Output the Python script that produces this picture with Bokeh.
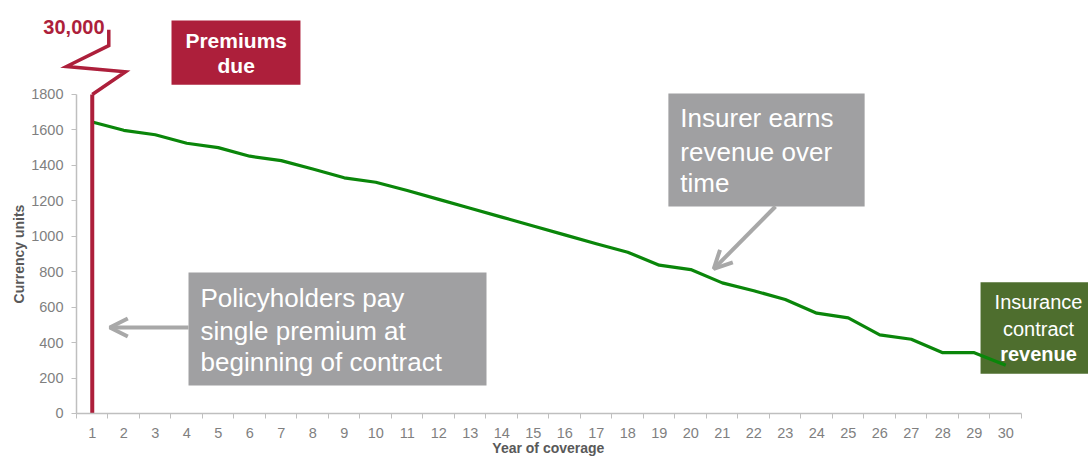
from bokeh.plotting import figure
from bokeh.models import (Range1d, FixedTicker, BoxAnnotation, Label, Arrow, OpenHead)
from bokeh.embed import file_html
from bokeh.resources import INLINE

# ---------------- data ----------------
years = list(range(1, 31))
year_labels = [str(y) for y in years]
revenue = [1645, 1598, 1573, 1525, 1500, 1452, 1427, 1380, 1330, 1305,
           1258, 1208, 1158, 1108, 1058, 1008, 958, 910, 837, 812,
           737, 693, 643, 566, 540, 444, 419, 343, 343, 272]
premium_year = [1, 1]
premium_level = [0, 1800]
premium_label = "30,000"
y_ticks = [0, 200, 400, 600, 800, 1000, 1200, 1400, 1600, 1800]
# axis-break marker drawn above the 1800 tick (data units)
break_x = [1, 2.056, 0.183, 1.525, 1.525]
break_y = [1800, 1928, 1958, 2076, 2165]

FONT = "Liberation Sans"
RED = "#AD1F3B"
GREEN_LINE = "#0A860A"
GREY_BOX = "#A0A0A2"
ARROW_GREY = "#A8A8A8"
GREEN_BOX = "#4E6E2E"
TICK_GREY = "#7F7F7F"
AXIS_GREY = "#BFBFBF"
TITLE_GREY = "#595959"

p = figure(width=1088, height=457, output_backend="svg", toolbar_location=None,
           x_range=Range1d(-1.9127, 32.627), y_range=Range1d(-248.3, 2330.4),
           min_border=0)
p.outline_line_color = None
p.grid.visible = False
p.background_fill_color = "white"
p.border_fill_color = "white"

# x axis: labels at category centres, tick marks between categories
xa = p.xaxis[0]
xa.fixed_location = 0
xa.ticker = FixedTicker(ticks=years, minor_ticks=[y - 0.5 for y in range(1, 32)])
xa.major_label_overrides = {y: l for y, l in zip(years, year_labels)}
xa.bounds = (0.5, 30.5)
xa.major_tick_out = 0
xa.major_tick_in = 0
xa.minor_tick_out = 5
xa.minor_tick_in = 0
xa.minor_tick_line_color = AXIS_GREY
xa.axis_line_color = AXIS_GREY
xa.axis_line_width = 1.5
xa.major_label_text_font = FONT
xa.major_label_text_font_size = "14.5px"
xa.major_label_text_color = TICK_GREY
xa.major_label_standoff = 10

ya = p.yaxis[0]
ya.fixed_location = 0.5
ya.ticker = FixedTicker(ticks=y_ticks, minor_ticks=[])
ya.bounds = (0, 1800)
ya.major_tick_out = 5
ya.major_tick_in = 0
ya.major_tick_line_color = AXIS_GREY
ya.axis_line_color = AXIS_GREY
ya.axis_line_width = 1.5
ya.major_label_text_font = FONT
ya.major_label_text_font_size = "14.5px"
ya.major_label_text_color = TICK_GREY
ya.major_label_standoff = 8

# green box behind the line
p.add_layout(BoxAnnotation(left=29.2, right=33, bottom=224, top=741,
                           fill_color=GREEN_BOX, fill_alpha=1, line_color=None,
                           level="underlay"))

# revenue line
p.line(years, revenue, line_color=GREEN_LINE, line_width=3.2, line_join="round")

# single premium line with axis-break marker
p.line(premium_year, premium_level, line_color=RED, line_width=4)
p.line(break_x, break_y, line_color=RED, line_width=3.5, line_join="miter")
p.add_layout(Label(x=1.389, y=2180, text=premium_label, text_font=FONT,
                   text_font_size="20px", text_font_style="bold",
                   text_color=RED, text_align="right", text_baseline="middle"))

# Premiums due box
p.add_layout(BoxAnnotation(left=3.516, right=7.61, bottom=1855, top=2218,
                           fill_color=RED, fill_alpha=1, line_color=None))
for t, yy in zip(["Premiums", "due"], [2105, 1964]):
    p.add_layout(Label(x=5.57, y=yy, text=t, text_font=FONT, text_font_size="21px",
                       text_font_style="bold", text_color="white",
                       text_align="center", text_baseline="middle"))

# Policyholders box
p.add_layout(BoxAnnotation(left=4.056, right=13.516, bottom=158, top=796,
                           fill_color=GREY_BOX, fill_alpha=1, line_color=None))
for t, yy in zip(["Policyholders pay", "single premium at",
                  "beginning of contract"], [649, 468, 288]):
    p.add_layout(Label(x=4.437, y=yy, text=t, text_font=FONT, text_font_size="26px",
                       text_color="white", text_align="left", text_baseline="middle"))
p.add_layout(Arrow(end=OpenHead(size=18, line_color=ARROW_GREY, line_width=4),
                   x_start=4.056, y_start=485, x_end=1.557, y_end=485,
                   line_color=ARROW_GREY, line_width=4))

# Insurer earns box
p.add_layout(BoxAnnotation(left=19.29, right=25.52, bottom=1168, top=1806,
                           fill_color=GREY_BOX, fill_alpha=1, line_color=None))
for t, yy in zip(["Insurer earns", "revenue over", "time"], [1670, 1478, 1298]):
    p.add_layout(Label(x=19.67, y=yy, text=t, text_font=FONT, text_font_size="26px",
                       text_color="white", text_align="left", text_baseline="middle"))
p.add_layout(Arrow(end=OpenHead(size=18, line_color=ARROW_GREY, line_width=4),
                   x_start=22.69, y_start=1168, x_end=20.73, y_end=816,
                   line_color=ARROW_GREY, line_width=4))

# Insurance contract revenue text
for t, yy, st in zip(["Insurance", "contract", "revenue"], [628, 478, 337],
                     ["normal", "normal", "bold"]):
    p.add_layout(Label(x=31.04, y=yy, text=t, text_font=FONT, text_font_size="20px",
                       text_font_style=st, text_color="white",
                       text_align="center", text_baseline="middle"))

# axis titles
p.add_layout(Label(x=-1.341, y=900, text="Currency units", angle=1.5708,
                   text_font=FONT, text_font_size="14px", text_font_style="bold",
                   text_color=TITLE_GREY, text_align="center", text_baseline="middle"))
p.add_layout(Label(x=15.48, y=-196, text="Year of coverage",
                   text_font=FONT, text_font_size="14px", text_font_style="bold",
                   text_color=TITLE_GREY, text_align="center", text_baseline="middle"))

open("out.html", "w").write(file_html(p, INLINE))
